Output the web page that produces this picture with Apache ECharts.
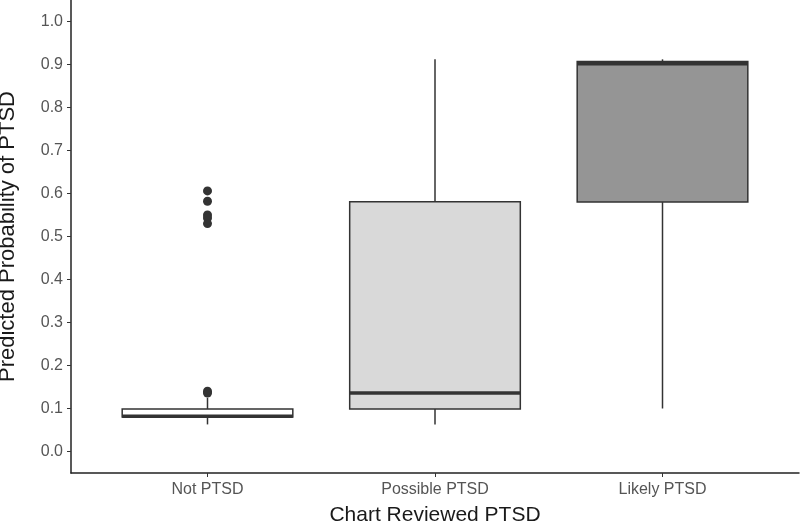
<!DOCTYPE html>
<html>
<head>
<meta charset="utf-8">
<script src="https://cdn.jsdelivr.net/npm/echarts@6/dist/echarts.min.js"></script>
<style>html,body{margin:0;padding:0;background:#fff;}#c{width:800px;height:527px;}</style>
</head>
<body>
<div id="c"></div>
<script>
const categories = ['Not PTSD', 'Possible PTSD', 'Likely PTSD'];
const whiskerLow = [0.063, 0.063, 0.100];
const q1 = [0.080, 0.099, 0.580];
const medians = [0.082, 0.136, 0.902];
const q3 = [0.099, 0.581, 0.907];
const whiskerHigh = [0.125, 0.912, 0.912];
const outlierCat = [0, 0, 0, 0, 0, 0, 0];
const outlierVal = [0.606, 0.582, 0.550, 0.543, 0.530, 0.140, 0.136];
const yTicks = [0, 0.1, 0.2, 0.3, 0.4, 0.5, 0.6, 0.7, 0.8, 0.9, 1.0];
const boxFill = ['#ffffff', '#d9d9d9', '#959595'];

const chart = echarts.init(document.getElementById('c'));
const font = 'Liberation Sans, Arial, sans-serif';
const gridTop = 0, gridBottom = 54;
const left1 = 71, right1 = 1;
const unit = (800 - left1 - right1) / 3.2;
const left0 = left1 + 0.1 * unit;
const right0 = right1 + 0.1 * unit;
const bw = 0.75 * unit;

chart.setOption({
  animation: false,
  grid: [
    { left: left0, right: right0, top: gridTop, bottom: gridBottom, containLabel: false, outerBoundsMode: 'none' },
    { left: left1, right: right1, top: gridTop, bottom: gridBottom, containLabel: false, outerBoundsMode: 'none' }
  ],
  xAxis: [
    { type: 'category', gridIndex: 0, data: categories, show: false },
    {
      type: 'value', gridIndex: 1, min: 0.4, max: 3.6,
      axisLine: { show: true, onZero: false, lineStyle: { color: '#222', width: 1.5 } },
      axisTick: { show: true, length: 4, customValues: [1, 2, 3], lineStyle: { color: '#333', width: 1 } },
      axisLabel: { customValues: [1, 2, 3], formatter: v => categories[Math.round(v) - 1], color: '#555', fontSize: 16, fontFamily: font, margin: 9 },
      splitLine: { show: false },
      name: 'Chart Reviewed PTSD', nameLocation: 'middle', nameGap: 32,
      nameTextStyle: { color: '#1a1a1a', fontSize: 21, fontFamily: font }
    }
  ],
  yAxis: [
    { type: 'value', gridIndex: 0, min: -0.05, max: 1.05, show: false },
    {
      type: 'value', gridIndex: 1, min: -0.05, max: 1.05,
      axisLine: { show: true, onZero: false, lineStyle: { color: '#222', width: 1.5 } },
      axisTick: { show: true, length: 4, customValues: yTicks, lineStyle: { color: '#333', width: 1 } },
      axisLabel: { customValues: yTicks, formatter: v => v.toFixed(1), color: '#555', fontSize: 16, fontFamily: font, margin: 8 },
      splitLine: { show: false },
      name: 'Predicted Probability of PTSD', nameLocation: 'middle', nameGap: 52, nameRotate: 90,
      nameTextStyle: { color: '#1a1a1a', fontSize: 22, fontFamily: font }
    }
  ],
  series: [
    {
      type: 'custom', xAxisIndex: 0, yAxisIndex: 0,
      data: categories.map((c, i) => [i, whiskerLow[i], q1[i], medians[i], q3[i], whiskerHigh[i]]),
      renderItem: (params, api) => {
        const i = api.value(0);
        const pLo = api.coord([i, api.value(1)]);
        const pQ1 = api.coord([i, api.value(2)]);
        const pMed = api.coord([i, api.value(3)]);
        const pQ3 = api.coord([i, api.value(4)]);
        const pHi = api.coord([i, api.value(5)]);
        const x = pQ1[0];
        const stroke = '#333';
        return {
          type: 'group',
          children: [
            { type: 'line', shape: { x1: x, y1: pLo[1], x2: x, y2: pQ1[1] }, style: { stroke, lineWidth: 1.5 } },
            { type: 'line', shape: { x1: x, y1: pQ3[1], x2: x, y2: pHi[1] }, style: { stroke, lineWidth: 1.5 } },
            { type: 'rect', shape: { x: x - bw / 2, y: pQ3[1], width: bw, height: pQ1[1] - pQ3[1] }, style: { fill: boxFill[i], stroke, lineWidth: 1.5 } },
            { type: 'line', shape: { x1: x - bw / 2, y1: pMed[1], x2: x + bw / 2, y2: pMed[1] }, style: { stroke, lineWidth: 3.5 } }
          ]
        };
      }
    },
    {
      type: 'scatter', xAxisIndex: 0, yAxisIndex: 0,
      data: outlierCat.map((c, i) => [c, outlierVal[i]]),
      symbolSize: 9,
      itemStyle: { color: '#333', opacity: 1 },
      z: 6
    }
  ]
});
</script>
</body>
</html>
